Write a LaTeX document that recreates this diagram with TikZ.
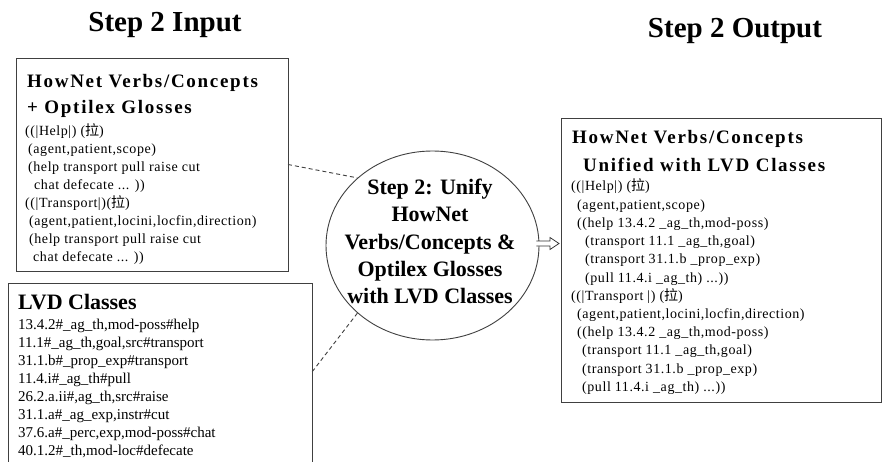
\documentclass[tikz,border=0pt]{standalone}
\usepackage{fontspec}
\setmainfont{Liberation Serif}
\newfontfamily\bodyfont[LetterSpace=4]{Liberation Serif}
\newfontfamily\titlefont[LetterSpace=9]{Liberation Serif}
\newfontfamily\cjk{Noto Sans CJK SC}
\usetikzlibrary{shapes.geometric,arrows.meta,calc}
\begin{document}
\begin{tikzpicture}[x=1pt,y=-1pt,
  frame/.style={draw=black!75, line width=0.9pt, inner sep=0pt, outer sep=0pt, anchor=north west},
  bodyA/.style={anchor=base west, inner sep=0pt, text=black, font=\bodyfont\fontsize{14}{16}\selectfont},
  bodyB/.style={anchor=base west, inner sep=0pt, text=black, font=\fontsize{15}{17}\selectfont},
  boxtitle/.style={anchor=base west, inner sep=0pt, text=black, font=\titlefont\bfseries\fontsize{19}{22}\selectfont},
  lvdtitle/.style={anchor=base west, inner sep=0pt, text=black, font=\bfseries\fontsize{22}{24}\selectfont},
  elltext/.style={anchor=base, inner sep=0pt, text=black, font=\bfseries\fontsize{22}{24}\selectfont},
  header/.style={anchor=base, inner sep=0pt, text=black, font=\bfseries\fontsize{29}{32}\selectfont},
  link/.style={dashed, dash pattern=on 4pt off 3pt, draw=black!75, line width=0.9pt},
  blockarrow/.style={draw=black!80, line width=0.8pt, fill=white, line join=miter}
]
\useasboundingbox (0,0) rectangle (885,462);
\fill[white] (0,0) rectangle (885,462);
\clip (0,0) rectangle (885,462);

% headers
\node[header] (hin) at (165,32) {Step 2 Input};
\node[header] (hout) at (735,38) {Step 2 Output};

% boxes
\node[frame, minimum width=272pt, minimum height=213pt] (B1) at (16,58) {};
\node[frame, minimum width=304pt, minimum height=190pt] (B2) at (8,283) {};
\node[frame, minimum width=320pt, minimum height=284pt] (B3) at (561,118) {};
\node[draw=black!75, line width=0.9pt, ellipse, inner sep=0pt, minimum width=213pt, minimum height=189pt] (E) at (432.5,245.5) {};

% box 1 text
\node[boxtitle] (t1a) at (27,88) {HowNet Verbs/Concepts};
\node[boxtitle] (t1b) at (27,114) {+ Optilex Glosses};
\foreach \dx/\t [count=\i] in {
  0/{((|Help|) ({\cjk 拉})},
  3/{(agent,patient,scope)},
  3/{(help transport pull raise cut},
  9/{chat defecate ... ))},
  0/{((|Transport|)({\cjk 拉})},
  4/{(agent,patient,locini,locfin,direction)},
  4/{(help transport pull raise cut},
  8/{chat defecate ... ))}}
  \node[bodyA] (a\i) at (25+\dx,136+17.9*\i-17.9) {\t};

% box 2 text
\node[lvdtitle] (t2) at (18,309) {LVD Classes};
\foreach \t [count=\i] in {
  {13.4.2\#\_ag\_th,mod-poss\#help},
  {11.1\#\_ag\_th,goal,src\#transport},
  {31.1.b\#\_prop\_exp\#transport},
  {11.4.i\#\_ag\_th\#pull},
  {26.2.a.ii\#,ag\_th,src\#raise},
  {31.1.a\#\_ag\_exp,instr\#cut},
  {37.6.a\#\_perc,exp,mod-poss\#chat},
  {40.1.2\#\_th,mod-loc\#defecate}}
  \node[bodyB] (l\i) at (18,329+18.1*\i-18.1) {\t};

% box 3 text
\node[boxtitle] (t3a) at (572,144) {HowNet Verbs/Concepts};
\node[boxtitle] (t3b) at (583,172) {Unified with LVD Classes};
\foreach \dx/\t [count=\i] in {
  0/{((|Help|) ({\cjk 拉})},
  6/{(agent,patient,scope)},
  6/{((help 13.4.2 \_ag\_th,mod-poss)},
  14/{(transport 11.1 \_ag\_th,goal)},
  14/{(transport 31.1.b \_prop\_exp)},
  14/{(pull 11.4.i \_ag\_th) ...))},
  0/{((|Transport |) ({\cjk 拉})},
  6/{(agent,patient,locini,locfin,direction)},
  6/{((help 13.4.2 \_ag\_th,mod-poss)},
  11/{(transport 11.1 \_ag\_th,goal)},
  11/{(transport 31.1.b \_prop\_exp)},
  11/{(pull 11.4.i \_ag\_th) ...))}}
  \node[bodyA] (c\i) at (571+\dx,191+18.2*\i-18.2) {\t};

% ellipse text
\foreach \t [count=\i] in {Step 2: Unify, HowNet, Verbs/Concepts \&, Optilex Glosses, with LVD Classes}
  \node[elltext] (e\i) at (430,195+27*\i-27) {\t};

% connectors
\draw[link] (B1.east) -- (E.138);
\draw[link] (E.222) -- ([yshift=-89pt]B2.north east);
\coordinate (as) at ([xshift=-3pt,yshift=2pt]E.east);
\coordinate (ae) at ($(as -| B3.west)+(-2,0)$);
\draw[blockarrow] ($(as)+(0,-2.5)$) -- ($(ae)+(-9,-2.5)$) -- ($(ae)+(-9,-6)$) -- (ae)
  -- ($(ae)+(-9,6)$) -- ($(ae)+(-9,2.5)$) -- ($(as)+(0,2.5)$);
\end{tikzpicture}
\end{document}
